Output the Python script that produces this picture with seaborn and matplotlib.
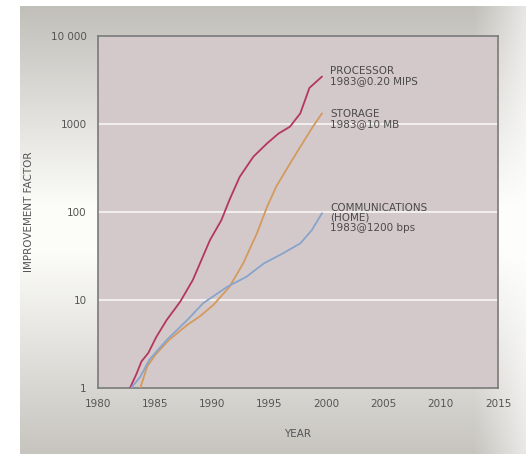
import numpy as np
import pandas as pd
import matplotlib
matplotlib.use('Agg')
import matplotlib.pyplot as plt
import seaborn as sns

# values (year, improvement factor)
proc_year = [1982.8, 1983.4, 1983.8, 1984.4, 1985.1, 1986.0, 1987.2, 1988.3, 1989.8,
             1990.8, 1991.5, 1992.4, 1993.6, 1994.8, 1995.8, 1996.8, 1997.7, 1998.5, 1999.6]
proc_val = [1.0, 1.48, 2.0, 2.5, 3.8, 5.9, 9.6, 16.9, 48, 81, 137, 251, 426, 603, 780,
            933, 1320, 2570, 3460]

stor_year = [1983.7, 1984.3, 1985.0, 1986.2, 1987.8, 1988.9, 1990.1, 1991.5, 1992.7,
             1993.9, 1994.8, 1995.6, 1996.8, 1997.7, 1998.8, 1999.6]
stor_val = [1.0, 1.75, 2.37, 3.5, 5.2, 6.5, 8.8, 14.1, 26, 57, 115, 195, 355, 550, 933, 1320]

comm_year = [1982.9, 1983.7, 1984.5, 1986.0, 1987.8, 1989.2, 1991.3, 1993.0, 1994.5,
             1996.2, 1997.7, 1998.7, 1999.6]
comm_val = [1.0, 1.34, 2.1, 3.5, 5.9, 9.2, 14.1, 18.4, 26, 34, 44, 62, 97]

series_names = ['PROCESSOR', 'STORAGE', 'COMMUNICATIONS']
series_labels = ['PROCESSOR\n1983@0.20 MIPS', 'STORAGE\n1983@10 MB',
                 'COMMUNICATIONS\n(HOME)\n1983@1200 bps']
label_y = [4600, 1500, 128]

x_ticks = [1980, 1985, 1990, 1995, 2000, 2005, 2010, 2015]
y_ticks = [1, 10, 100, 1000, 10000]
y_ticklabels = ['1', '10', '100', '1000', '10 000']

df = pd.concat([
    pd.DataFrame({'year': proc_year, 'factor': proc_val, 'series': 'PROCESSOR'}),
    pd.DataFrame({'year': stor_year, 'factor': stor_val, 'series': 'STORAGE'}),
    pd.DataFrame({'year': comm_year, 'factor': comm_val, 'series': 'COMMUNICATIONS'}),
])

colors = {'PROCESSOR': '#b3375e', 'STORAGE': '#d39a5e', 'COMMUNICATIONS': '#86a4cc'}

sns.set_style('white')
plt.rcParams['font.family'] = ['DejaVu Sans']

fig = plt.figure(figsize=(5.26, 4.54), dpi=100)
fig.patch.set_facecolor('white')

# soft grey panel behind the chart
bg = fig.add_axes([20 / 526, 0, 1 - 20 / 526, 1 - 6 / 454], zorder=-5)
h, w = 200, 200
t = np.linspace(0, 1, h)[:, None]
top = np.array([0.76, 0.75, 0.73])
mid = np.array([0.99, 0.99, 0.98])
bot = np.array([0.78, 0.77, 0.75])
wt = np.clip(1 - t / 0.45, 0, 1)
wb = np.clip((t - 0.55) / 0.45, 0, 1)
col = mid + (top - mid) * wt[..., None] + (bot - mid) * wb[..., None]
col = np.repeat(col, w, axis=1)
s = np.linspace(0, 1, w)[None, :]
fade = np.clip((s - 0.9) / 0.1, 0, 1)[..., None] * 0.6
img = col + (1 - col) * fade
bg.imshow(img, aspect='auto', extent=[0, 1, 0, 1])
bg.axis('off')

ax = fig.add_axes([98 / 526, 1 - 388 / 454, 400 / 526, 352 / 454])
ax.set_facecolor('#d4c9ca')
ax.set_yscale('log')
ax.set_xlim(1980, 2015)
ax.set_ylim(1, 10000)
for v in [10, 100, 1000]:
    ax.axhline(v, color='#f4f0f0', lw=1.4, zorder=1)

sns.lineplot(data=df, x='year', y='factor', hue='series', palette=colors,
             hue_order=series_names, ax=ax, legend=False, lw=1.3, zorder=3)

for name, lab, yv in zip(series_names, series_labels, label_y):
    ax.text(2000.3, yv, lab, fontsize=7.5, color='#4a4a4a', va='top', ha='left',
            linespacing=1.05)

ax.set_xticks(x_ticks)
ax.set_yticks(y_ticks)
ax.set_yticklabels(y_ticklabels)
ax.minorticks_off()
ax.tick_params(axis='x', direction='in', length=5, width=1, color='#777777',
               labelsize=7.5, labelcolor='#555555', pad=8)
ax.tick_params(axis='y', length=0, labelsize=7.5, labelcolor='#555555', pad=8)
for sp in ax.spines.values():
    sp.set_color('#7a7a7a')
    sp.set_linewidth(1.2)

ax.set_xlabel('YEAR', fontsize=7.5, color='#555555', labelpad=14)
ax.set_ylabel('IMPROVEMENT FACTOR', fontsize=7.5, color='#555555', labelpad=12)

fig.savefig('out.png', dpi=100)
